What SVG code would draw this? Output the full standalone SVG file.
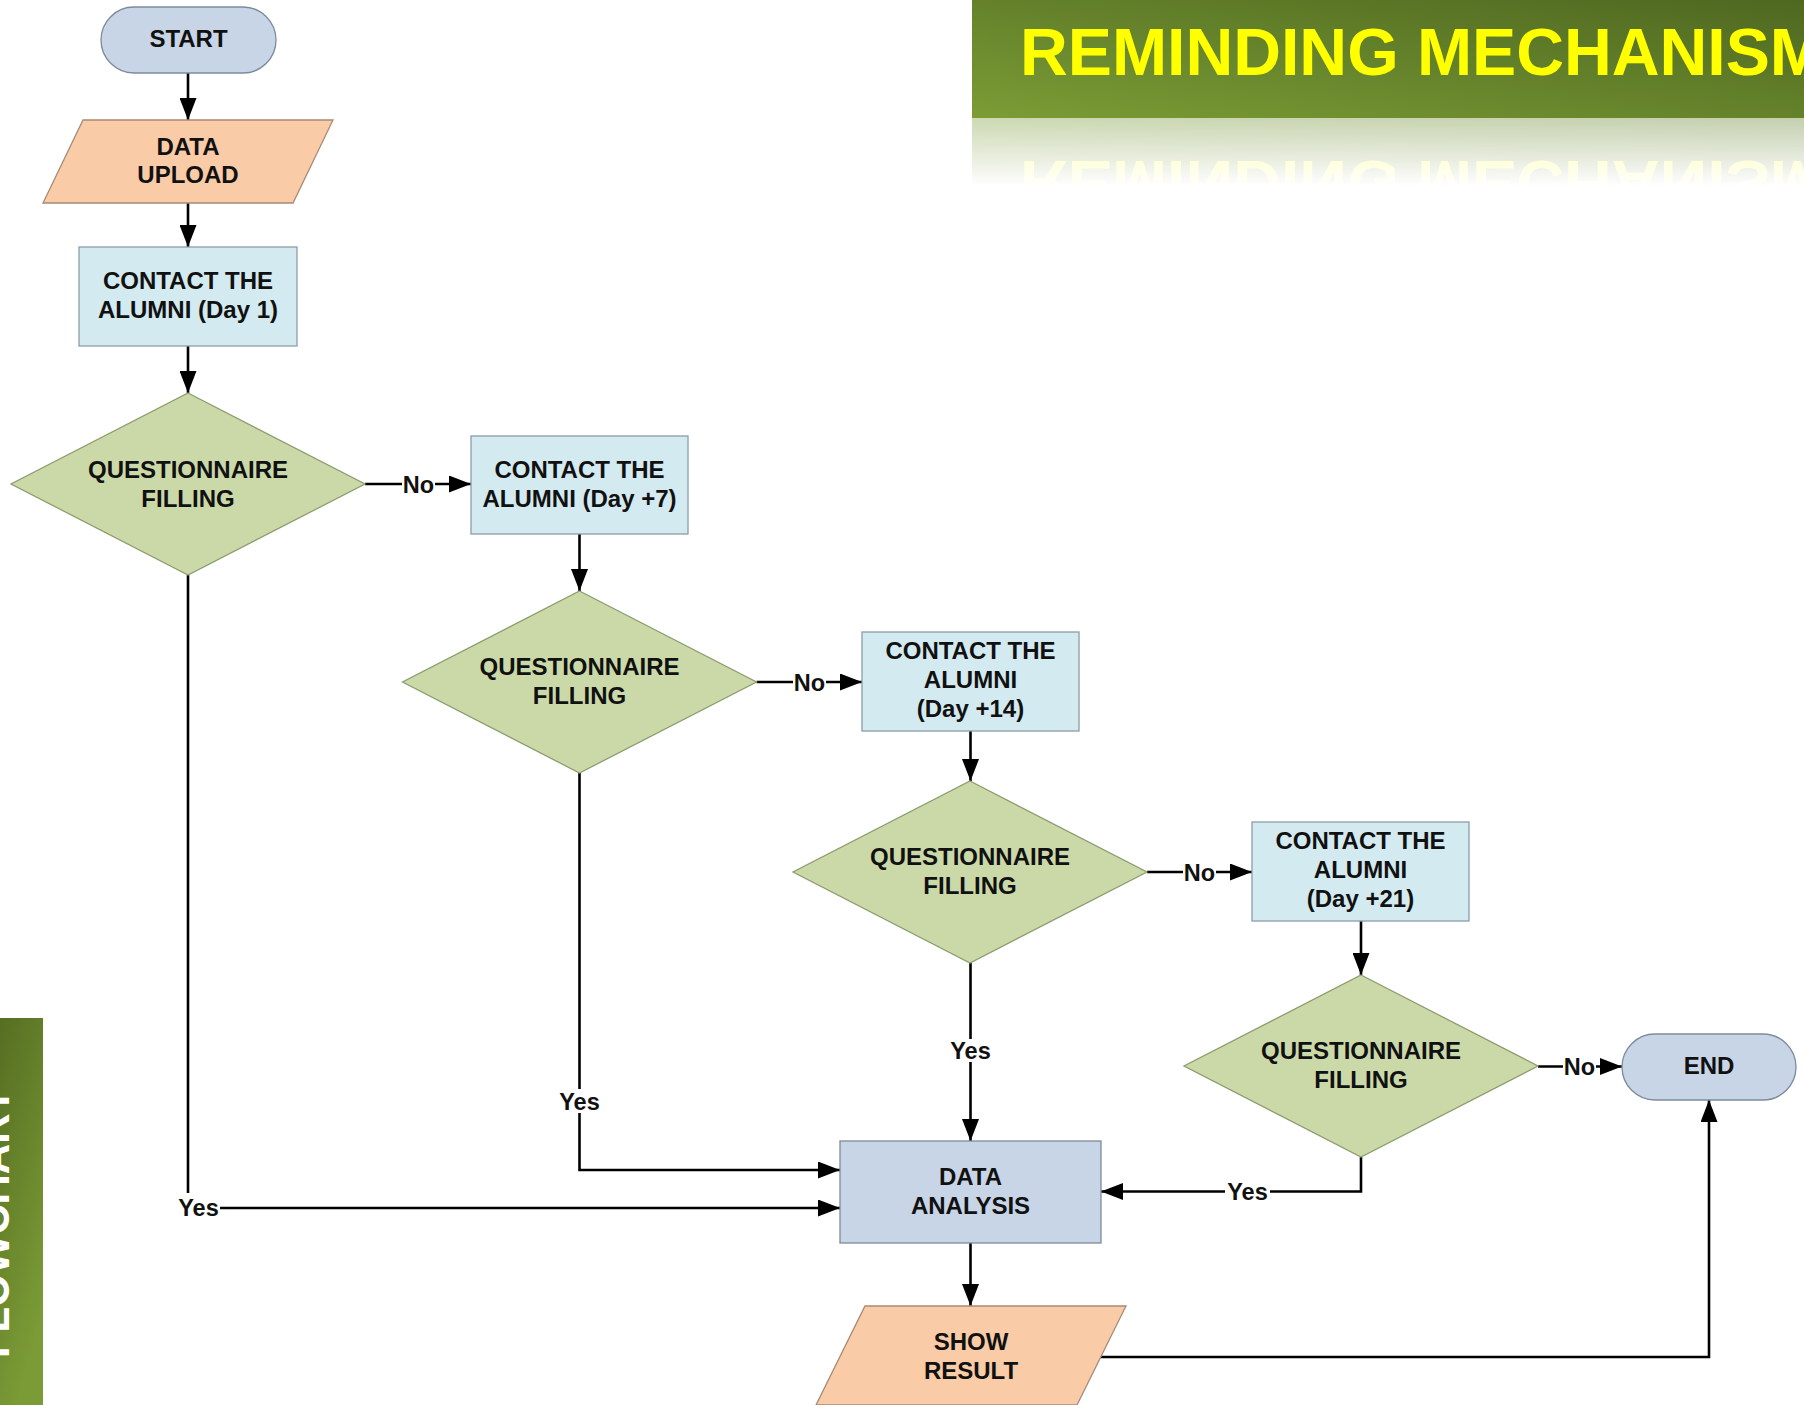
<svg xmlns="http://www.w3.org/2000/svg" width="1804" height="1405" viewBox="0 0 1804 1405">
<style>
.dia{fill:#cbd9a8;stroke:#8d9c6f;stroke-width:1.3}
.box{fill:#d3eaf0;stroke:#8c9ca8;stroke-width:1.3}
.term{fill:#c8d5e6;stroke:#7d8a9b;stroke-width:1.3}
.io{fill:#f9cba6;stroke:#a88a76;stroke-width:1.3}
.t{font-family:"Liberation Sans",Arial,sans-serif;font-weight:bold;font-size:24px;fill:#111;text-anchor:middle}
.l{font-family:"Liberation Sans",Arial,sans-serif;font-weight:bold;font-size:23.5px;fill:#111;text-anchor:middle}
.conn{fill:none;stroke:#000;stroke-width:2.6}
.head{fill:#000}
</style>
<defs>
<marker id="arr" markerUnits="userSpaceOnUse" markerWidth="23" markerHeight="17" refX="22" refY="8.5" orient="auto">
<path class="head" d="M0,0 L22,8.5 L0,17 z"/>
</marker>
<linearGradient id="gBand" x1="0" y1="1" x2="1" y2="0">
<stop offset="0" stop-color="#7b9c35"/>
<stop offset="1" stop-color="#4e6820"/>
</linearGradient>
<linearGradient id="gSide" x1="0" y1="0" x2="0.4" y2="1">
<stop offset="0" stop-color="#556e22"/>
<stop offset="1" stop-color="#7b9b36"/>
</linearGradient>
<linearGradient id="gFade" x1="0" y1="118" x2="0" y2="186" gradientUnits="userSpaceOnUse">
<stop offset="0" stop-color="#fff" stop-opacity="0.38"/>
<stop offset="1" stop-color="#fff" stop-opacity="0"/>
</linearGradient>
<mask id="mFade" maskUnits="userSpaceOnUse" x="960" y="118" width="844" height="70">
<rect x="960" y="118" width="844" height="70" fill="url(#gFade)"/>
</mask>
</defs>

<g id="title">
<rect x="972" y="0" width="832" height="118" fill="url(#gBand)"/>
<text x="1020" y="75" font-family="Liberation Sans, Arial, sans-serif" font-weight="bold" font-size="66" fill="#ffff00" textLength="805" lengthAdjust="spacingAndGlyphs">REMINDING MECHANISM</text>
<g mask="url(#mFade)">
<g transform="translate(0,236) scale(1,-1)">
<rect x="972" y="0" width="832" height="118" fill="url(#gBand)"/>
<text x="1020" y="75" font-family="Liberation Sans, Arial, sans-serif" font-weight="bold" font-size="66" fill="#ffff00" textLength="805" lengthAdjust="spacingAndGlyphs">REMINDING MECHANISM</text>
</g>
</g>
</g>

<g id="side">
<rect x="0" y="1018" width="43" height="387" fill="url(#gSide)"/>
<text transform="translate(9,1358) rotate(-90)" x="0" y="0" font-family="Liberation Sans, Arial, sans-serif" font-weight="bold" font-size="44" fill="#ffffff" textLength="270" lengthAdjust="spacingAndGlyphs">FLOWCHART</text>
</g>

<g id="connectors">
<path class="conn" marker-end="url(#arr)" d="M188,73 V120"/>
<path class="conn" marker-end="url(#arr)" d="M188,203 V247"/>
<path class="conn" marker-end="url(#arr)" d="M188,346 V393"/>
<path class="conn" marker-end="url(#arr)" d="M365,484 H402 M435,484 H471"/>
<path class="conn" marker-end="url(#arr)" d="M579.5,534 V591"/>
<path class="conn" marker-end="url(#arr)" d="M756.5,682 H793 M826,682 H862"/>
<path class="conn" marker-end="url(#arr)" d="M970.5,731 V781"/>
<path class="conn" marker-end="url(#arr)" d="M1147,872 H1183 M1216,872 H1252"/>
<path class="conn" marker-end="url(#arr)" d="M1361,921 V975"/>
<path class="conn" marker-end="url(#arr)" d="M1538,1066.5 H1563 M1596,1066.5 H1622"/>
<path class="conn" marker-end="url(#arr)" d="M188,575 V1193 M220,1208 H840"/>
<path class="conn" marker-end="url(#arr)" d="M579.5,773 V1089 M579.5,1113 V1170 H840"/>
<path class="conn" marker-end="url(#arr)" d="M970.5,963 V1039 M970.5,1062 V1141"/>
<path class="conn" marker-end="url(#arr)" d="M1361,1157 V1191.5 H1270 M1225,1191.5 H1101"/>
<path class="conn" marker-end="url(#arr)" d="M970.5,1243 V1306"/>
<path class="conn" marker-end="url(#arr)" d="M1100,1357 H1709 V1100"/>
<text class="l" x="418.5" y="492.5">No</text>
<text class="l" x="809.5" y="690.5">No</text>
<text class="l" x="1199.5" y="880.5">No</text>
<text class="l" x="1579.5" y="1075">No</text>
<text class="l" x="198.5" y="1216">Yes</text>
<text class="l" x="579.5" y="1109.5">Yes</text>
<text class="l" x="970.5" y="1058.5">Yes</text>
<text class="l" x="1247.5" y="1200">Yes</text>
</g>

<g id="start">
<rect class="term" x="101" y="7" width="175" height="66" rx="33"/>
<text class="t" x="188.5" y="47">START</text>
</g>

<g id="data-upload">
<polygon class="io" points="83,120 333,120 293,203 43,203"/>
<text class="t" x="188" y="155">DATA</text>
<text class="t" x="188" y="183">UPLOAD</text>
</g>

<g id="contact-day1">
<rect class="box" x="79" y="247" width="218" height="99"/>
<text class="t" x="188" y="289">CONTACT THE</text>
<text class="t" x="188" y="318">ALUMNI (Day 1)</text>
</g>

<g id="q1">
<polygon class="dia" points="188,393 365,484 188,575 11,484"/>
<text class="t" x="188" y="478">QUESTIONNAIRE</text>
<text class="t" x="188" y="507">FILLING</text>
</g>

<g id="contact-day7">
<rect class="box" x="471" y="436" width="217" height="98"/>
<text class="t" x="579.5" y="478">CONTACT THE</text>
<text class="t" x="579.5" y="507">ALUMNI (Day +7)</text>
</g>

<g id="q2">
<polygon class="dia" points="579.5,591 756.5,682 579.5,773 402.5,682"/>
<text class="t" x="579.5" y="675">QUESTIONNAIRE</text>
<text class="t" x="579.5" y="704">FILLING</text>
</g>

<g id="contact-day14">
<rect class="box" x="862" y="632" width="217" height="99"/>
<text class="t" x="970.5" y="659">CONTACT THE</text>
<text class="t" x="970.5" y="688">ALUMNI</text>
<text class="t" x="970.5" y="717">(Day +14)</text>
</g>

<g id="q3">
<polygon class="dia" points="970,781 1147,872 970,963 793,872"/>
<text class="t" x="970" y="865">QUESTIONNAIRE</text>
<text class="t" x="970" y="894">FILLING</text>
</g>

<g id="contact-day21">
<rect class="box" x="1252" y="822" width="217" height="99"/>
<text class="t" x="1360.5" y="849">CONTACT THE</text>
<text class="t" x="1360.5" y="878">ALUMNI</text>
<text class="t" x="1360.5" y="907">(Day +21)</text>
</g>

<g id="q4">
<polygon class="dia" points="1361,975 1538,1066 1361,1157 1184,1066"/>
<text class="t" x="1361" y="1059">QUESTIONNAIRE</text>
<text class="t" x="1361" y="1088">FILLING</text>
</g>

<g id="end">
<rect class="term" x="1622" y="1034" width="174" height="66" rx="33"/>
<text class="t" x="1709" y="1074">END</text>
</g>

<g id="data-analysis">
<rect class="term" x="840" y="1141" width="261" height="102"/>
<text class="t" x="970.5" y="1184.5">DATA</text>
<text class="t" x="970.5" y="1213.5">ANALYSIS</text>
</g>

<g id="show-result">
<polygon class="io" points="865,1306 1126,1306 1077,1405 816,1405"/>
<text class="t" x="971" y="1349.5">SHOW</text>
<text class="t" x="971" y="1378.5">RESULT</text>
</g>
</svg>
